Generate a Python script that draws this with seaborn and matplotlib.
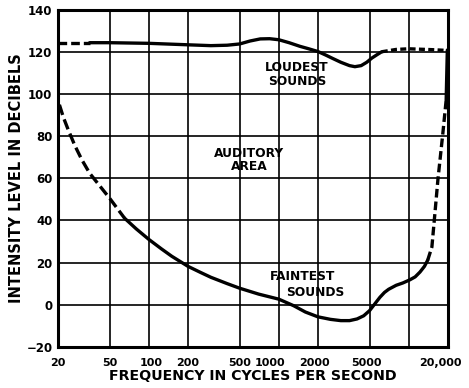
import matplotlib
matplotlib.use("Agg")
import matplotlib.pyplot as plt
import matplotlib.transforms as mtransforms
import seaborn as sns
import pandas as pd

# Threshold of hearing ("faintest sounds"), dashed where extrapolated
faint_low_freq = [20.5, 22, 24, 27, 30.6, 35, 40, 50, 65]
faint_low_db = [95, 89, 83, 75.5, 68.7, 62.5, 58, 50.5, 41.1]
faint_freq = [65, 80, 100, 125, 150, 200, 250, 300, 400, 500, 700, 1000,
              1300, 1600, 2000, 2500, 3000, 3500, 4000, 4500, 5000, 5500,
              6000, 6500, 7000, 8000, 9000, 10200, 11200, 12200, 13200, 14000]
faint_db = [41.1, 36, 31, 26.5, 23, 18.2, 15.3, 13, 10, 7.8, 5, 2.6,
            -0.5, -3.5, -5.8, -7, -7.6, -7.6, -6.8, -5.3, -2.8, 0.5,
            3.5, 5.8, 7.3, 9.2, 10.3, 11.8, 13.2, 15.5, 18.2, 21.2]
faint_high_freq = [14000, 15060, 15900, 16750, 18300, 19400]
faint_high_db = [21.2, 27.4, 43.6, 59.3, 81.6, 97.3]
edge_freq = [19400, 19800]
edge_db = [97.3, 121]

# Threshold of feeling ("loudest sounds")
loud_low_freq = [20, 35]
loud_low_db = [124.5, 124.5]
loud_freq = [35, 50, 100, 200, 300, 400, 500, 600, 720, 850, 1000, 1200,
             1450, 1700, 2000, 2300, 2600, 3000, 3500, 3850, 4300, 4750,
             5200, 5700, 6200]
loud_db = [124.5, 124.5, 124.2, 123.5, 123.1, 123.3, 123.9, 125.3, 126.3,
           126.4, 125.9, 124.5, 122.8, 121.6, 120.3, 118.6, 117, 115.2,
           113.6, 113.1, 113.6, 115.2, 117.2, 118.8, 120.2]
loud_high_freq = [6200, 8000, 10000, 15000, 20000]
loud_high_db = [120.2, 121.3, 121.6, 121.2, 120.8]

grid_freqs = [20, 50, 100, 200, 500, 1000, 2000, 5000, 10000, 20000]
grid_labels = ["20", "50", "100", "200", "500", "1000", "2000", "5000", "", "20,000"]
label_shift_px = [0, 0, 2, 0, 0, -9, -3, -3, 0, -8]
db_ticks = [-20, 0, 20, 40, 60, 80, 100, 120, 140]
db_labels = ["\u221220", "0", "20", "40", "60", "80", "100", "120", "140"]

sns.set_theme(style="white")
plt.rcParams["font.family"] = ["DejaVu Sans"]
plt.rcParams["font.weight"] = "bold"

fig = plt.figure(figsize=(4.69, 3.88), dpi=100)
ax = fig.add_axes([0.1237, 0.1064, 0.955 - 0.1237, 0.974 - 0.1064])

ax.set_xscale("log")
ax.set_xlim(20, 20000)
ax.set_ylim(-20, 140)

for f in grid_freqs:
    ax.axvline(f, color="black", lw=1.2, zorder=1)
for d in db_ticks:
    ax.axhline(d, color="black", lw=1.2, zorder=1)

lw = 2.4
segments = [
    (faint_low_freq, faint_low_db, (3.2, 1.4)),
    (faint_freq, faint_db, None),
    (faint_high_freq, faint_high_db, (2.6, 1.2)),
    (edge_freq, edge_db, None),
    (loud_low_freq, loud_low_db, (2.6, 1.2)),
    (loud_freq, loud_db, None),
    (loud_high_freq, loud_high_db, (1.8, 1.0)),
]
for fx, dy, dash in segments:
    df = pd.DataFrame({"freq": fx, "db": dy})
    line_ax = sns.lineplot(data=df, x="freq", y="db", ax=ax, color="black",
                           lw=lw, sort=False, estimator=None, zorder=3)
    line = line_ax.get_lines()[-1]
    if dash is not None:
        line.set_dashes(dash)
    line.set_solid_capstyle("round")
    line.set_solid_joinstyle("round")

for s in ax.spines.values():
    s.set_visible(True)
    s.set_color("black")
    s.set_linewidth(2.2)

ax.set_xticks(grid_freqs)
ax.set_xticklabels(grid_labels)
ax.xaxis.set_minor_locator(matplotlib.ticker.NullLocator())
ax.set_yticks(db_ticks)
ax.set_yticklabels(db_labels)
ax.tick_params(axis="both", length=0, colors="black")
ax.tick_params(axis="x", pad=8, labelsize=8)
ax.tick_params(axis="y", pad=4, labelsize=8.5)
for lab in ax.get_xticklabels() + ax.get_yticklabels():
    lab.set_fontweight("bold")
for lab, dx in zip(ax.get_xticklabels(), label_shift_px):
    if dx:
        lab.set_transform(lab.get_transform() +
                          mtransforms.ScaledTranslation(dx / 100, 0, fig.dpi_scale_trans))

ax.set_xlabel("FREQUENCY IN CYCLES PER SECOND", fontsize=10.2, fontweight="bold",
              labelpad=1, color="black")
ax.set_ylabel("INTENSITY LEVEL IN DECIBELS", fontsize=10.5, fontweight="bold",
              labelpad=2, color="black")

txt = dict(fontsize=8.8, fontweight="bold", color="black", ha="center",
           va="center", zorder=4)
ax.text(1378, 109.4, "LOUDEST\nSOUNDS", linespacing=1.05, **txt)
ax.text(589, 68.75, "AUDITORY\nAREA", linespacing=1.05, **txt)
ax.text(1534, 13.2, "FAINTEST", **txt)
ax.text(1896, 5.6, "SOUNDS", **txt)

fig.savefig("out.png", dpi=100, facecolor="white")
